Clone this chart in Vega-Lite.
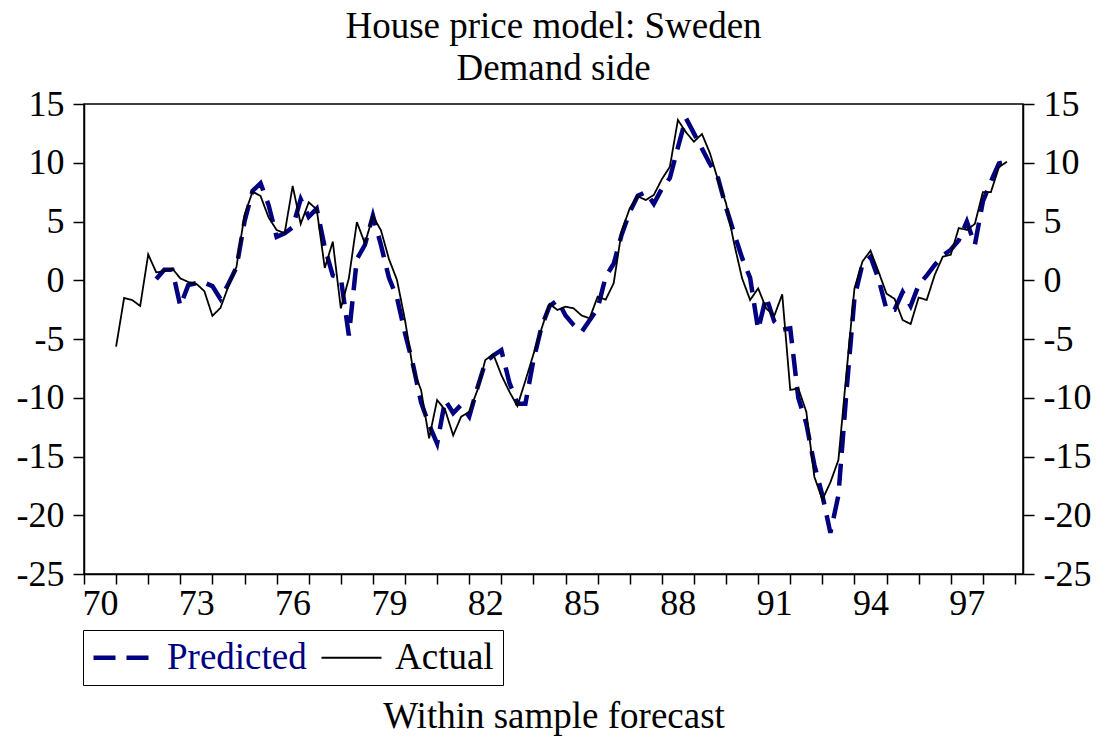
{
  "$schema": "https://vega.github.io/schema/vega-lite/v6.json",
  "width": 939,
  "height": 470,
  "autosize": {"type": "none"},
  "padding": {"left": 84, "top": 104, "right": 75, "bottom": 164},
  "background": "white",
  "title": {
    "text": ["House price model: Sweden", "Demand side"],
    "font": "Liberation Serif",
    "fontSize": 37,
    "fontWeight": "normal",
    "color": "black",
    "anchor": "middle",
    "frame": "group",
    "baseline": "top",
    "lineHeight": 42,
    "offset": -2
  },
  "data": {
    "values": [
      {"t": 71.00, "Actual": -5.65, "Predicted": null},
      {"t": 71.25, "Actual": -1.5, "Predicted": null},
      {"t": 71.50, "Actual": -1.68, "Predicted": null},
      {"t": 71.75, "Actual": -2.19, "Predicted": null},
      {"t": 72.00, "Actual": 2.2, "Predicted": null},
      {"t": 72.25, "Actual": 0.67, "Predicted": 0.1},
      {"t": 72.50, "Actual": 0.77, "Predicted": 0.9},
      {"t": 72.75, "Actual": 1.0, "Predicted": 0.9},
      {"t": 73.00, "Actual": 0.16, "Predicted": -2.2},
      {"t": 73.25, "Actual": -0.15, "Predicted": -0.4},
      {"t": 73.50, "Actual": -0.3, "Predicted": -0.25},
      {"t": 73.75, "Actual": -0.93, "Predicted": -0.2},
      {"t": 74.00, "Actual": -3.03, "Predicted": -0.5},
      {"t": 74.25, "Actual": -2.36, "Predicted": -1.6},
      {"t": 74.50, "Actual": -0.5, "Predicted": -0.3},
      {"t": 74.75, "Actual": 1.15, "Predicted": 1.1},
      {"t": 75.00, "Actual": 5.55, "Predicted": 5.0},
      {"t": 75.25, "Actual": 7.54, "Predicted": 7.6},
      {"t": 75.50, "Actual": 7.17, "Predicted": 8.25},
      {"t": 75.75, "Actual": 5.35, "Predicted": 6.4},
      {"t": 76.00, "Actual": 4.28, "Predicted": 3.7},
      {"t": 76.25, "Actual": 4.0, "Predicted": 4.0},
      {"t": 76.50, "Actual": 8.02, "Predicted": 4.5},
      {"t": 76.75, "Actual": 4.79, "Predicted": 6.9},
      {"t": 77.00, "Actual": 6.63, "Predicted": 5.4},
      {"t": 77.25, "Actual": 6.03, "Predicted": 6.1},
      {"t": 77.50, "Actual": 1.05, "Predicted": 2.8},
      {"t": 77.75, "Actual": 3.28, "Predicted": 0.4},
      {"t": 78.00, "Actual": -2.39, "Predicted": 0.2},
      {"t": 78.25, "Actual": 0.16, "Predicted": -4.7},
      {"t": 78.50, "Actual": 4.95, "Predicted": 1.8},
      {"t": 78.75, "Actual": 3.14, "Predicted": 3.0},
      {"t": 79.00, "Actual": 5.45, "Predicted": 5.5},
      {"t": 79.25, "Actual": 4.25, "Predicted": 3.0},
      {"t": 79.50, "Actual": 1.8, "Predicted": 0.2},
      {"t": 79.75, "Actual": 0.02, "Predicted": -1.5},
      {"t": 80.00, "Actual": -3.4, "Predicted": -4.5},
      {"t": 80.25, "Actual": -7.6, "Predicted": -7.2},
      {"t": 80.50, "Actual": -9.34, "Predicted": -10.4},
      {"t": 80.75, "Actual": -13.45, "Predicted": -12.3},
      {"t": 81.00, "Actual": -10.19, "Predicted": -13.9},
      {"t": 81.25, "Actual": -11.04, "Predicted": -10.2},
      {"t": 81.50, "Actual": -13.2, "Predicted": -11.3},
      {"t": 81.75, "Actual": -11.6, "Predicted": -10.6},
      {"t": 82.00, "Actual": -11.2, "Predicted": -11.6},
      {"t": 82.25, "Actual": -9.4, "Predicted": -9.2},
      {"t": 82.50, "Actual": -6.79, "Predicted": -7.0},
      {"t": 82.75, "Actual": -6.3, "Predicted": -6.4},
      {"t": 83.00, "Actual": -8.06, "Predicted": -5.95},
      {"t": 83.25, "Actual": -9.48, "Predicted": -8.7},
      {"t": 83.50, "Actual": -10.7, "Predicted": -10.5},
      {"t": 83.75, "Actual": -8.55, "Predicted": -10.5},
      {"t": 84.00, "Actual": -6.3, "Predicted": -6.8},
      {"t": 84.25, "Actual": -4.15, "Predicted": -4.0},
      {"t": 84.50, "Actual": -2.02, "Predicted": -2.2},
      {"t": 84.75, "Actual": -2.53, "Predicted": -1.7},
      {"t": 85.00, "Actual": -2.25, "Predicted": -3.0},
      {"t": 85.25, "Actual": -2.39, "Predicted": -3.8},
      {"t": 85.50, "Actual": -3.0, "Predicted": -4.4},
      {"t": 85.75, "Actual": -3.24, "Predicted": -3.4},
      {"t": 86.00, "Actual": -1.4, "Predicted": -2.4},
      {"t": 86.25, "Actual": -1.65, "Predicted": 0.3},
      {"t": 86.50, "Actual": -0.25, "Predicted": 1.4},
      {"t": 86.75, "Actual": 4.2, "Predicted": 3.9},
      {"t": 87.00, "Actual": 6.12, "Predicted": 5.8},
      {"t": 87.25, "Actual": 7.14, "Predicted": 7.2},
      {"t": 87.50, "Actual": 6.83, "Predicted": 7.5},
      {"t": 87.75, "Actual": 7.26, "Predicted": 6.5},
      {"t": 88.00, "Actual": 8.6, "Predicted": 7.8},
      {"t": 88.25, "Actual": 9.66, "Predicted": 8.7},
      {"t": 88.50, "Actual": 13.64, "Predicted": 11.3},
      {"t": 88.75, "Actual": 12.6, "Predicted": 13.8},
      {"t": 89.00, "Actual": 11.79, "Predicted": 12.5},
      {"t": 89.25, "Actual": 12.45, "Predicted": 11.2},
      {"t": 89.50, "Actual": 10.8, "Predicted": 9.9},
      {"t": 89.75, "Actual": 8.53, "Predicted": 8.7},
      {"t": 90.00, "Actual": 6.55, "Predicted": 6.2},
      {"t": 90.25, "Actual": 3.14, "Predicted": 4.0},
      {"t": 90.50, "Actual": 0.16, "Predicted": 1.9},
      {"t": 90.75, "Actual": -1.68, "Predicted": 0.2},
      {"t": 91.00, "Actual": -0.69, "Predicted": -4.2},
      {"t": 91.25, "Actual": -2.39, "Predicted": -1.4},
      {"t": 91.50, "Actual": -3.04, "Predicted": -3.5},
      {"t": 91.75, "Actual": -1.2, "Predicted": -4.2},
      {"t": 92.00, "Actual": -9.34, "Predicted": -4.1},
      {"t": 92.25, "Actual": -9.2, "Predicted": -10.0},
      {"t": 92.50, "Actual": -11.19, "Predicted": -12.2},
      {"t": 92.75, "Actual": -16.72, "Predicted": -15.7},
      {"t": 93.00, "Actual": -18.67, "Predicted": -18.3},
      {"t": 93.25, "Actual": -17.2, "Predicted": -21.5},
      {"t": 93.50, "Actual": -15.3, "Predicted": -18.3},
      {"t": 93.75, "Actual": -7.9, "Predicted": -9.5},
      {"t": 94.00, "Actual": -0.69, "Predicted": -1.5},
      {"t": 94.25, "Actual": 1.6, "Predicted": 1.4},
      {"t": 94.50, "Actual": 2.52, "Predicted": 2.0},
      {"t": 94.75, "Actual": 0.73, "Predicted": 0.1},
      {"t": 95.00, "Actual": -1.15, "Predicted": -2.5},
      {"t": 95.25, "Actual": -1.58, "Predicted": -2.5},
      {"t": 95.50, "Actual": -3.38, "Predicted": -1.0},
      {"t": 95.75, "Actual": -3.73, "Predicted": -2.2},
      {"t": 96.00, "Actual": -1.47, "Predicted": -0.4},
      {"t": 96.25, "Actual": -1.68, "Predicted": 0.4},
      {"t": 96.50, "Actual": 0.45, "Predicted": 1.3},
      {"t": 96.75, "Actual": 2.0, "Predicted": 2.1},
      {"t": 97.00, "Actual": 2.18, "Predicted": 2.6},
      {"t": 97.25, "Actual": 4.45, "Predicted": 3.4},
      {"t": 97.50, "Actual": 4.28, "Predicted": 5.0},
      {"t": 97.75, "Actual": 4.8, "Predicted": 3.0},
      {"t": 98.00, "Actual": 7.5, "Predicted": 6.7},
      {"t": 98.25, "Actual": 7.5, "Predicted": 8.4},
      {"t": 98.50, "Actual": 9.62, "Predicted": 9.95},
      {"t": 98.75, "Actual": 10.09, "Predicted": 10.1}
    ]
  },
  "transform": [{"fold": ["Predicted", "Actual"], "as": ["series", "v"]}],
  "layer": [
    {
      "transform": [{"filter": "datum.series === 'Predicted'"}],
      "mark": {"type": "line", "strokeCap": "butt"},
      "encoding": {
        "x": {"field": "t", "type": "quantitative", "scale": {"domain": [70, 99.25], "nice": false, "zero": false},
          "axis": {"values": [70,71,72,73,74,75,76,77,78,79,80,81,82,83,84,85,86,87,88,89,90,91,92,93,94,95,96,97,98,99],
            "labelExpr": "(datum.value - 70) % 3 === 0 && datum.value <= 97 ? '' + datum.value : ''",
            "labelOffset": 16, "labelFlush": false, "labelOverlap": false, "tickSize": 10, "labelPadding": 2,
            "title": "Within sample forecast", "titlePadding": 77}},
        "y": {"field": "v", "type": "quantitative", "scale": {"domain": [-25, 15], "nice": false, "zero": false},
          "axis": {"values": [-25,-20,-15,-10,-5,0,5,10,15], "labelExpr": "'' + datum.value", "tickSize": 11, "labelPadding": 9, "title": null, "orient": "left"}},
        "color": {"field": "series", "type": "nominal", "scale": {"domain": ["Predicted", "Actual"], "range": ["#000080", "#000000"]}, "legend": {"title": null}},
        "strokeDash": {"field": "series", "type": "nominal", "scale": {"domain": ["Predicted", "Actual"], "range": [[22, 11], [1, 0]]}, "legend": {"title": null}},
        "strokeWidth": {"field": "series", "type": "ordinal", "scale": {"domain": ["Predicted", "Actual"], "range": [4.5, 1.8]}, "legend": {"title": null}}
      }
    },
    {
      "transform": [{"filter": "datum.series === 'Actual'"}],
      "mark": {"type": "line", "strokeCap": "butt"},
      "encoding": {
        "x": {"field": "t", "type": "quantitative", "scale": {"domain": [70, 99.25], "nice": false, "zero": false},
          "axis": {"values": [70,71,72,73,74,75,76,77,78,79,80,81,82,83,84,85,86,87,88,89,90,91,92,93,94,95,96,97,98,99],
            "labelExpr": "(datum.value - 70) % 3 === 0 && datum.value <= 97 ? '' + datum.value : ''",
            "labelOffset": 16, "labelFlush": false, "labelOverlap": false, "tickSize": 10, "labelPadding": 2,
            "title": "Within sample forecast", "titlePadding": 77}},
        "y": {"field": "v", "type": "quantitative", "scale": {"domain": [-25, 15], "nice": false, "zero": false}, "axis": null},
        "color": {"field": "series", "type": "nominal", "scale": {"domain": ["Predicted", "Actual"], "range": ["#000080", "#000000"]}, "legend": {"title": null}},
        "strokeDash": {"field": "series", "type": "nominal", "scale": {"domain": ["Predicted", "Actual"], "range": [[22, 11], [1, 0]]}, "legend": {"title": null}},
        "strokeWidth": {"field": "series", "type": "ordinal", "scale": {"domain": ["Predicted", "Actual"], "range": [4.5, 1.8]}, "legend": {"title": null}}
      }
    },
    {
      "transform": [{"filter": "datum.series === 'Actual'"}],
      "mark": {"type": "line", "opacity": 0},
      "encoding": {
        "x": {"field": "t", "type": "quantitative", "scale": {"domain": [70, 99.25], "nice": false, "zero": false},
          "axis": {"values": [70,71,72,73,74,75,76,77,78,79,80,81,82,83,84,85,86,87,88,89,90,91,92,93,94,95,96,97,98,99],
            "labelExpr": "(datum.value - 70) % 3 === 0 && datum.value <= 97 ? '' + datum.value : ''",
            "labelOffset": 16, "labelFlush": false, "labelOverlap": false, "tickSize": 10, "labelPadding": 2,
            "title": "Within sample forecast", "titlePadding": 77}},
        "y": {"field": "v", "type": "quantitative", "scale": {"domain": [-25, 15], "nice": false, "zero": false},
          "axis": {"orient": "right", "values": [-25,-20,-15,-10,-5,0,5,10,15], "labelExpr": "'' + datum.value", "tickSize": 11, "labelPadding": 9, "title": null}}
      }
    }
  ],
  "resolve": {"scale": {"y": "independent"}},
  "config": {
    "view": {"stroke": "black", "strokeWidth": 1.5},
    "axis": {
      "grid": false,
      "domainColor": "black", "domainWidth": 1.5,
      "tickColor": "black", "tickWidth": 1.5,
      "labelFont": "Liberation Serif", "labelFontSize": 36, "labelColor": "black",
      "titleFont": "Liberation Serif", "titleFontSize": 37, "titleFontWeight": "normal", "titleColor": "black"
    },
    "legend": {
      "orient": "none", "legendX": -1, "legendY": 526,
      "direction": "horizontal",
      "strokeColor": "black", "padding": 9,
      "symbolType": "M-2,0H2", "symbolSize": 900, "symbolOffset": 13,
      "labelFont": "Liberation Serif", "labelFontSize": 37,
      "labelColor": {"expr": "datum.value === 'Predicted' ? '#000080' : '#000000'"},
      "labelOffset": 25, "columnPadding": 10
    }
  }
}
